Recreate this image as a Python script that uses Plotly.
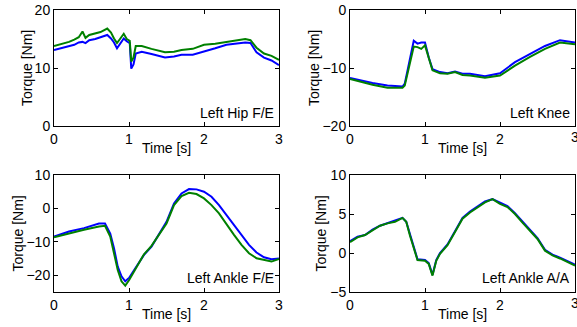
import plotly.graph_objects as go

# ---- data ----
t_hip = [0, 0.1, 0.2, 0.27, 0.33, 0.38, 0.42, 0.47, 0.55, 0.62, 0.71, 0.76, 0.8, 0.84, 0.88, 0.93, 0.97, 1.01, 1.03, 1.06, 1.09, 1.17, 1.3, 1.48, 1.6, 1.7, 1.85, 2.0, 2.15, 2.3, 2.45, 2.55, 2.62, 2.7, 2.8, 2.9, 3.0]
hip_blue = [13.1, 13.4, 13.7, 14.0, 14.4, 14.5, 14.3, 14.8, 15.0, 15.3, 15.7, 15.1, 14.4, 13.4, 14.2, 15.1, 14.6, 14.3, 9.9, 10.6, 12.5, 12.8, 12.4, 11.8, 12.0, 12.3, 12.3, 12.8, 13.4, 14.0, 14.2, 14.4, 14.3, 12.7, 11.8, 11.3, 10.5]
hip_green = [13.8, 14.1, 14.5, 14.9, 15.3, 16.3, 15.2, 15.7, 15.9, 16.2, 16.8, 16.1, 15.1, 14.3, 15.0, 15.9, 15.0, 14.7, 11.1, 11.8, 13.8, 13.8, 13.3, 12.7, 12.8, 13.1, 13.3, 14.0, 14.2, 14.5, 14.8, 15.0, 14.8, 13.5, 12.5, 12.1, 11.4]

t_knee = [0, 0.15, 0.3, 0.5, 0.7, 0.73, 0.8, 0.85, 0.9, 0.95, 1.0, 1.05, 1.1, 1.2, 1.3, 1.4, 1.5, 1.6, 1.8, 2.0, 2.2, 2.4, 2.6, 2.8, 3.0]
knee_blue = [-11.7, -12.1, -12.6, -13.0, -13.2, -12.7, -8.2, -5.3, -5.8, -5.6, -5.6, -8.2, -10.2, -10.7, -10.9, -10.6, -11.0, -11.0, -11.4, -10.9, -9.0, -7.6, -6.2, -5.2, -5.6]
knee_green = [-11.9, -12.4, -12.9, -13.4, -13.4, -13.0, -9.0, -6.3, -6.4, -6.7, -6.1, -8.4, -10.4, -10.9, -11.0, -10.7, -11.2, -11.3, -11.7, -11.3, -9.6, -8.1, -6.7, -5.6, -5.9]

t_afe = [0, 0.2, 0.4, 0.6, 0.68, 0.75, 0.8, 0.85, 0.9, 0.95, 1.0, 1.1, 1.2, 1.3, 1.4, 1.5, 1.6, 1.7, 1.8, 1.9, 2.0, 2.1, 2.2, 2.3, 2.4, 2.5, 2.6, 2.7, 2.8, 2.9, 3.0]
afe_blue = [-8.4, -6.9, -5.9, -4.5, -4.5, -7.5, -11.9, -17.4, -20.3, -21.8, -20.8, -17.4, -13.9, -11.4, -7.9, -4.0, 1.5, 4.5, 5.8, 5.7, 5.0, 3.5, 1.0, -2.0, -5.0, -7.9, -10.9, -13.2, -14.6, -15.2, -15.0]
afe_green = [-8.6, -7.4, -6.4, -5.4, -5.2, -8.4, -13.4, -18.4, -21.8, -23.1, -21.5, -17.6, -13.7, -11.2, -7.9, -4.5, 1.0, 3.7, 4.7, 4.3, 3.0, 1.0, -1.5, -4.8, -7.9, -10.9, -13.4, -14.9, -15.4, -15.9, -15.1]

t_aaa = [0, 0.1, 0.2, 0.3, 0.4, 0.5, 0.6, 0.7, 0.75, 0.8, 0.85, 0.9, 1.0, 1.05, 1.1, 1.15, 1.2, 1.3, 1.4, 1.5, 1.6, 1.7, 1.8, 1.9, 2.0, 2.1, 2.2, 2.3, 2.4, 2.5, 2.6, 2.7, 2.8, 2.9, 3.0]
aaa_blue = [1.5, 2.1, 2.3, 3.0, 3.5, 3.8, 4.1, 4.5, 4.0, 2.3, 0.6, -0.8, -0.9, -1.3, -2.8, -0.9, 0.0, 1.1, 2.8, 4.5, 5.3, 6.0, 6.6, 6.9, 6.4, 6.0, 5.1, 4.0, 3.0, 1.9, 0.4, -0.2, -0.6, -1.1, -1.5]
aaa_green = [1.4, 2.0, 2.3, 2.9, 3.5, 3.8, 4.0, 4.5, 4.0, 2.2, 0.5, -0.9, -1.0, -1.4, -2.9, -1.0, -0.1, 1.0, 2.7, 4.4, 5.2, 5.9, 6.5, 6.9, 6.3, 5.9, 5.0, 3.9, 2.9, 1.8, 0.3, -0.3, -0.7, -1.2, -1.6]

titles = ["Left Hip F/E", "Left Knee", "Left Ankle F/E", "Left Ankle A/A"]
yranges = [[0, 20], [-20, 0], [-25, 10], [-5, 10]]
yticks = [[0, 10, 20], [-20, -10, 0], [-20, -10, 0, 10], [-5, 0, 5, 10]]
xticks = [0, 1, 2, 3]
xtitle = "Time [s]"
ytitle = "Torque [Nm]"

panels = [(t_hip, hip_blue, hip_green), (t_knee, knee_blue, knee_green),
          (t_afe, afe_blue, afe_green), (t_aaa, aaa_blue, aaa_green)]

W, H = 577, 327
# plot boxes in screen pixels (left, right, top, bottom)
boxes = [(54, 279, 10, 126), (350, 575, 10, 126), (54, 279, 175, 292), (350, 575, 175, 292)]
ytitle_off = [27, 36, 37, 30]   # px left of plot area for y-title centre
xtitle_off = 22                 # px below plot area for x-title centre


def px(x):
    return x / W


def py(y):
    return 1 - y / H


fig = go.Figure()
FONT = "Liberation Sans, Arial, Helvetica, sans-serif"
FS = 14
for i, (t, b, g) in enumerate(panels):
    k = "" if i == 0 else str(i + 1)
    fig.add_trace(go.Scatter(x=t, y=b, mode="lines", line=dict(color="#0000ff", width=2),
                             xaxis="x" + k, yaxis="y" + k, showlegend=False))
    fig.add_trace(go.Scatter(x=t, y=g, mode="lines", line=dict(color="#008000", width=2),
                             xaxis="x" + k, yaxis="y" + k, showlegend=False))
    x0, x1, y0, y1 = boxes[i]
    common = dict(showline=True, mirror="ticks", linecolor="black", linewidth=1,
                  ticks="inside", ticklen=4, tickcolor="black", showgrid=False, zeroline=False,
                  automargin=False,
                  tickfont=dict(family=FONT, size=FS, color="black"))
    fig.update_layout(**{
        "xaxis" + k: dict(domain=[px(x0), px(x1)], range=[0, 3], tickvals=xticks,
                          anchor="y" + k, **common),
        "yaxis" + k: dict(domain=[py(y1), py(y0)], range=yranges[i], tickvals=yticks[i],
                          anchor="x" + k, **common),
    })
    fig.add_annotation(text=titles[i], xref=("x" + k) + " domain", yref=("y" + k) + " domain",
                       x=0.985, y=0.03, xanchor="right", yanchor="bottom", showarrow=False,
                       font=dict(family=FONT, size=FS, color="black"))
    fig.add_annotation(text=xtitle, xref="paper", yref="paper",
                       x=px((x0 + x1) / 2), y=py(y1 + xtitle_off),
                       xanchor="center", yanchor="middle", showarrow=False,
                       font=dict(family=FONT, size=FS, color="black"))
    fig.add_annotation(text=ytitle, xref="paper", yref="paper", textangle=-90,
                       x=px(x0 - ytitle_off[i]), y=py((y0 + y1) / 2),
                       xanchor="center", yanchor="middle", showarrow=False,
                       font=dict(family=FONT, size=FS, color="black"))
    if x1 + 6 > W:
        # last tick label at the page edge (plotly drops it; the reference shows it clipped)
        fig.add_annotation(text=str(xticks[-1]), xref="x" + k, yref="paper",
                           x=xticks[-1], y=py(y1 + 11), xanchor="center", yanchor="middle",
                           showarrow=False, font=dict(family=FONT, size=FS, color="black"))

fig.update_layout(width=W, height=H, margin=dict(l=0, r=0, t=0, b=0),
                  paper_bgcolor="white", plot_bgcolor="white")
fig.write_html("out.html", config={"displayModeBar": False},
               post_script="document.body.style.margin='0';document.body.style.overflow='hidden';")
